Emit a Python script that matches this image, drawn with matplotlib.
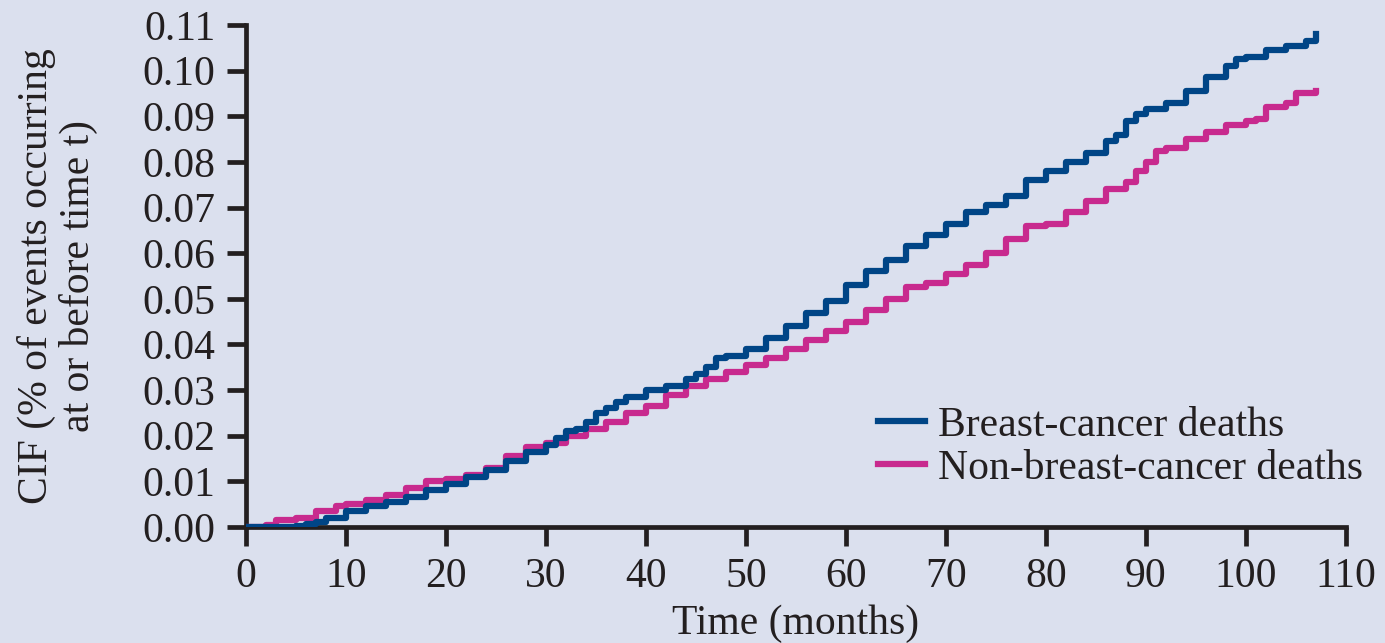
import matplotlib
matplotlib.use('Agg')
import matplotlib.pyplot as plt

# cumulative incidence
t_bc = [0, 3, 5, 6, 7, 8, 10, 12, 14, 16, 18, 20, 22, 24, 26, 28, 30, 31, 32, 33, 34, 35,
        36, 37, 38, 40, 42, 44, 45, 46, 47, 48, 50, 52, 54, 56, 58, 60, 62, 64, 66, 68,
        70, 72, 74, 76, 78, 80, 82, 84, 86, 87, 88, 89, 90, 92, 94, 96, 98, 99, 100, 102,
        104, 106, 107]
cif_bc = [0, 0, 0.0003, 0.0006, 0.001, 0.002, 0.0035, 0.0045, 0.0055, 0.0065, 0.008, 0.0095,
          0.011, 0.0125, 0.0145, 0.0165, 0.018, 0.0195, 0.021, 0.0215, 0.023, 0.025, 0.026,
          0.0275, 0.0285, 0.030, 0.031, 0.0325, 0.0335, 0.035, 0.037, 0.0375, 0.039, 0.0415,
          0.044, 0.047, 0.0495, 0.053, 0.056, 0.0585, 0.0615, 0.064, 0.0665, 0.069, 0.0705,
          0.0725, 0.076, 0.078, 0.080, 0.082, 0.0845, 0.086, 0.089, 0.0905, 0.0915, 0.093,
          0.0955, 0.0985, 0.101, 0.1025, 0.103, 0.1045, 0.1055, 0.1065, 0.108]

t_nbc = [0, 2, 3, 5, 7, 9, 10, 12, 14, 16, 18, 20, 22, 24, 26, 28, 30, 32, 34, 36, 38, 40,
         42, 44, 46, 48, 50, 52, 54, 56, 58, 60, 62, 64, 66, 68, 70, 72, 74, 76, 78, 80, 82,
         84, 86, 88, 89, 90, 91, 92, 94, 96, 98, 100, 101, 102, 104, 105, 107]
cif_nbc = [0, 0.0005, 0.0015, 0.002, 0.0035, 0.0045, 0.005, 0.006, 0.007, 0.0085, 0.010,
           0.0105, 0.0115, 0.013, 0.0155, 0.0175, 0.0185, 0.020, 0.0215, 0.023, 0.025, 0.0265,
           0.029, 0.031, 0.0325, 0.034, 0.0355, 0.037, 0.039, 0.041, 0.043, 0.045, 0.0475,
           0.050, 0.0525, 0.0535, 0.0555, 0.0575, 0.060, 0.063, 0.066, 0.0665, 0.069, 0.0715,
           0.074, 0.0755, 0.078, 0.080, 0.0825, 0.083, 0.085, 0.0865, 0.088, 0.089, 0.0895,
           0.092, 0.093, 0.095, 0.0955]

x_ticks = list(range(0, 111, 10))
y_ticks = [i / 100 for i in range(12)]

bg = '#dbe0ee'
ink = '#231f20'
fs = 30
plt.rcParams['font.family'] = ['Liberation Serif', 'DejaVu Serif']

fig = plt.figure(figsize=(13.85, 6.43), dpi=100, facecolor=bg)
ax = fig.add_axes([0.1776, 0.1804, 0.7942, 0.7807])
ax.set_facecolor(bg)

ax.plot(t_nbc, cif_nbc, drawstyle='steps-post', color='#c82a8e', lw=4.5,
        label='Non-breast-cancer deaths', zorder=3)
ax.plot(t_bc, cif_bc, drawstyle='steps-post', color='#004586', lw=4.5,
        label='Breast-cancer deaths', zorder=4)

ax.set_xlim(0, 110)
ax.set_ylim(0, 0.11)
ax.set_xticks(x_ticks)
ax.set_yticks(y_ticks)
ax.set_yticklabels(['%.2f' % v for v in y_ticks])
for s in ['top', 'right']:
    ax.spines[s].set_visible(False)
for s in ['left', 'bottom']:
    ax.spines[s].set_linewidth(3.4)
    ax.spines[s].set_color(ink)
ax.tick_params(length=14, width=3.4, color=ink, labelsize=fs, labelcolor=ink, pad=8)

ax.set_xlabel('Time (months)', fontsize=fs, color=ink, labelpad=6)
ax.set_ylabel('CIF (% of events occurring\nat or before time t)', fontsize=fs,
              color=ink, labelpad=32, linespacing=1.1)

h, l = ax.get_legend_handles_labels()
ax.legend(h[::-1], l[::-1], loc='upper left', bbox_to_anchor=(0.5745, 0.24),
          frameon=False, fontsize=fs, handlelength=1.13, handletextpad=0.31,
          borderpad=0, borderaxespad=0, labelspacing=0.1, labelcolor=ink)

fig.savefig('out.png', dpi=100, facecolor=bg)
